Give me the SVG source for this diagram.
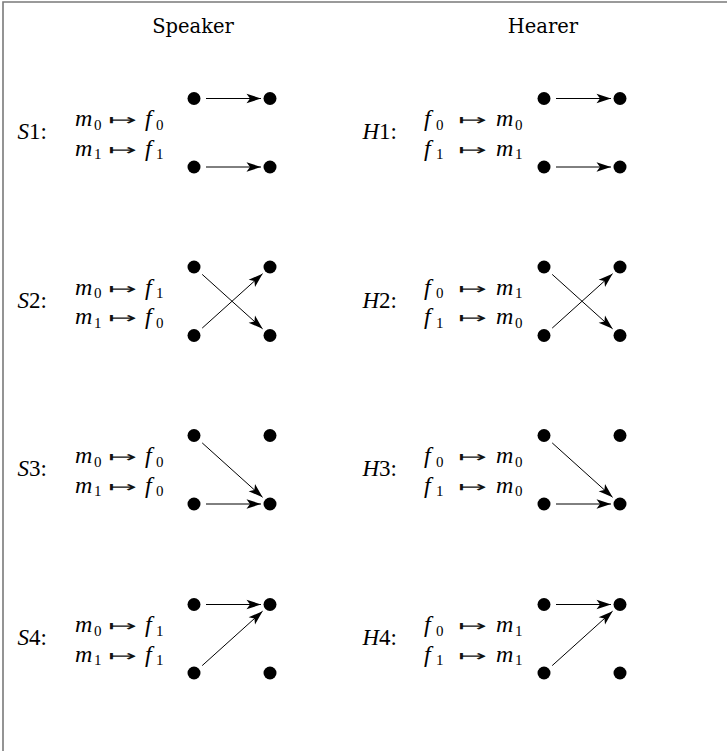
<svg xmlns="http://www.w3.org/2000/svg" width="727" height="751" viewBox="0 0 727 751">
<style>
.frame{stroke:#7a7a7a;stroke-width:1.6;fill:none}
.hdr{font-family:"DejaVu Serif","Liberation Serif",serif;font-size:19.5px;text-anchor:middle;fill:#000}
.mi{font-family:"Liberation Serif",serif;font-style:italic;font-size:24px;fill:#000}
.sub{font-family:"Liberation Serif",serif;font-style:normal;font-size:15px}
.arr{font-family:"DejaVu Sans",sans-serif;font-size:15px;fill:#111}
.lbl{font-family:"Liberation Serif",serif;font-size:23px;text-anchor:end;fill:#000}
.lbl .v{font-style:italic}
.dot{fill:#000}
.edge{stroke:#000;stroke-width:1;fill:none;marker-end:url(#ah)}
</style>
<defs>
<marker id="ah" markerUnits="userSpaceOnUse" markerWidth="16" markerHeight="10" refX="14.5" refY="4.75" orient="auto" overflow="visible">
<path d="M0,0 L14.5,4.75 L0,9.5 L3.5,4.75 z" fill="#000"/>
</marker>
</defs>
<rect width="727" height="751" fill="#fff"/>
<path class="frame" d="M3,751 V2 H727"/>
<g id="header-speaker"><text class="hdr" x="193" y="33">Speaker</text></g>
<g id="header-hearer"><text class="hdr" x="543" y="33">Hearer</text></g>

<!-- Row 1 -->
<g id="S1">
<text class="lbl" x="47" y="139"><tspan class="v">S</tspan>1:</text>
<text class="mi" y="126"><tspan x="75">m</tspan><tspan class="sub" x="94" y="129.5">0</tspan><tspan x="145" y="126">f</tspan><tspan class="sub" x="156" y="129.5">0</tspan></text>
<text class="arr" x="108" y="125" textLength="29" lengthAdjust="spacingAndGlyphs">↦</text>
<text class="mi" y="155.5"><tspan x="75">m</tspan><tspan class="sub" x="94" y="159">1</tspan><tspan x="145" y="155.5">f</tspan><tspan class="sub" x="156" y="159">1</tspan></text>
<text class="arr" x="108" y="154.5" textLength="29" lengthAdjust="spacingAndGlyphs">↦</text>
<circle class="dot" cx="194" cy="98.5" r="6.5"/><circle class="dot" cx="270" cy="98.5" r="6.5"/>
<circle class="dot" cx="194" cy="167" r="6.5"/><circle class="dot" cx="270" cy="167" r="6.5"/>
</g>
<g id="H1">
<text class="lbl" x="397" y="139"><tspan class="v">H</tspan>1:</text>
<text class="mi" y="126"><tspan x="424">f</tspan><tspan class="sub" x="436" y="129.5">0</tspan><tspan x="496" y="126">m</tspan><tspan class="sub" x="515" y="129.5">0</tspan></text>
<text class="arr" x="458" y="125" textLength="29" lengthAdjust="spacingAndGlyphs">↦</text>
<text class="mi" y="155.5"><tspan x="424">f</tspan><tspan class="sub" x="436" y="159">1</tspan><tspan x="496" y="155.5">m</tspan><tspan class="sub" x="515" y="159">1</tspan></text>
<text class="arr" x="458" y="154.5" textLength="29" lengthAdjust="spacingAndGlyphs">↦</text>
<circle class="dot" cx="544" cy="98.5" r="6.5"/><circle class="dot" cx="620" cy="98.5" r="6.5"/>
<circle class="dot" cx="544" cy="167" r="6.5"/><circle class="dot" cx="620" cy="167" r="6.5"/>
</g>

<!-- Row 2 -->
<g id="S2">
<text class="lbl" x="47" y="307.5"><tspan class="v">S</tspan>2:</text>
<text class="mi" y="294.5"><tspan x="75">m</tspan><tspan class="sub" x="94" y="298">0</tspan><tspan x="145" y="294.5">f</tspan><tspan class="sub" x="156" y="298">1</tspan></text>
<text class="arr" x="108" y="293.5" textLength="29" lengthAdjust="spacingAndGlyphs">↦</text>
<text class="mi" y="324"><tspan x="75">m</tspan><tspan class="sub" x="94" y="327.5">1</tspan><tspan x="145" y="324">f</tspan><tspan class="sub" x="156" y="327.5">0</tspan></text>
<text class="arr" x="108" y="323" textLength="29" lengthAdjust="spacingAndGlyphs">↦</text>
<circle class="dot" cx="194" cy="267" r="6.5"/><circle class="dot" cx="270" cy="267" r="6.5"/>
<circle class="dot" cx="194" cy="335.5" r="6.5"/><circle class="dot" cx="270" cy="335.5" r="6.5"/>
</g>
<g id="H2">
<text class="lbl" x="397" y="307.5"><tspan class="v">H</tspan>2:</text>
<text class="mi" y="294.5"><tspan x="424">f</tspan><tspan class="sub" x="436" y="298">0</tspan><tspan x="496" y="294.5">m</tspan><tspan class="sub" x="515" y="298">1</tspan></text>
<text class="arr" x="458" y="293.5" textLength="29" lengthAdjust="spacingAndGlyphs">↦</text>
<text class="mi" y="324"><tspan x="424">f</tspan><tspan class="sub" x="436" y="327.5">1</tspan><tspan x="496" y="324">m</tspan><tspan class="sub" x="515" y="327.5">0</tspan></text>
<text class="arr" x="458" y="323" textLength="29" lengthAdjust="spacingAndGlyphs">↦</text>
<circle class="dot" cx="544" cy="267" r="6.5"/><circle class="dot" cx="620" cy="267" r="6.5"/>
<circle class="dot" cx="544" cy="335.5" r="6.5"/><circle class="dot" cx="620" cy="335.5" r="6.5"/>
</g>

<!-- Row 3 -->
<g id="S3">
<text class="lbl" x="47" y="476"><tspan class="v">S</tspan>3:</text>
<text class="mi" y="463"><tspan x="75">m</tspan><tspan class="sub" x="94" y="466.5">0</tspan><tspan x="145" y="463">f</tspan><tspan class="sub" x="156" y="466.5">0</tspan></text>
<text class="arr" x="108" y="462" textLength="29" lengthAdjust="spacingAndGlyphs">↦</text>
<text class="mi" y="492.5"><tspan x="75">m</tspan><tspan class="sub" x="94" y="496">1</tspan><tspan x="145" y="492.5">f</tspan><tspan class="sub" x="156" y="496">0</tspan></text>
<text class="arr" x="108" y="491.5" textLength="29" lengthAdjust="spacingAndGlyphs">↦</text>
<circle class="dot" cx="194" cy="435.5" r="6.5"/><circle class="dot" cx="270" cy="435.5" r="6.5"/>
<circle class="dot" cx="194" cy="504" r="6.5"/><circle class="dot" cx="270" cy="504" r="6.5"/>
</g>
<g id="H3">
<text class="lbl" x="397" y="476"><tspan class="v">H</tspan>3:</text>
<text class="mi" y="463"><tspan x="424">f</tspan><tspan class="sub" x="436" y="466.5">0</tspan><tspan x="496" y="463">m</tspan><tspan class="sub" x="515" y="466.5">0</tspan></text>
<text class="arr" x="458" y="462" textLength="29" lengthAdjust="spacingAndGlyphs">↦</text>
<text class="mi" y="492.5"><tspan x="424">f</tspan><tspan class="sub" x="436" y="496">1</tspan><tspan x="496" y="492.5">m</tspan><tspan class="sub" x="515" y="496">0</tspan></text>
<text class="arr" x="458" y="491.5" textLength="29" lengthAdjust="spacingAndGlyphs">↦</text>
<circle class="dot" cx="544" cy="435.5" r="6.5"/><circle class="dot" cx="620" cy="435.5" r="6.5"/>
<circle class="dot" cx="544" cy="504" r="6.5"/><circle class="dot" cx="620" cy="504" r="6.5"/>
</g>

<!-- Row 4 -->
<g id="S4">
<text class="lbl" x="47" y="645"><tspan class="v">S</tspan>4:</text>
<text class="mi" y="632"><tspan x="75">m</tspan><tspan class="sub" x="94" y="635.5">0</tspan><tspan x="145" y="632">f</tspan><tspan class="sub" x="156" y="635.5">1</tspan></text>
<text class="arr" x="108" y="631" textLength="29" lengthAdjust="spacingAndGlyphs">↦</text>
<text class="mi" y="661.5"><tspan x="75">m</tspan><tspan class="sub" x="94" y="665">1</tspan><tspan x="145" y="661.5">f</tspan><tspan class="sub" x="156" y="665">1</tspan></text>
<text class="arr" x="108" y="660.5" textLength="29" lengthAdjust="spacingAndGlyphs">↦</text>
<circle class="dot" cx="194" cy="604.5" r="6.5"/><circle class="dot" cx="270" cy="604.5" r="6.5"/>
<circle class="dot" cx="194" cy="673" r="6.5"/><circle class="dot" cx="270" cy="673" r="6.5"/>
</g>
<g id="H4">
<text class="lbl" x="397" y="645"><tspan class="v">H</tspan>4:</text>
<text class="mi" y="632"><tspan x="424">f</tspan><tspan class="sub" x="436" y="635.5">0</tspan><tspan x="496" y="632">m</tspan><tspan class="sub" x="515" y="635.5">1</tspan></text>
<text class="arr" x="458" y="631" textLength="29" lengthAdjust="spacingAndGlyphs">↦</text>
<text class="mi" y="661.5"><tspan x="424">f</tspan><tspan class="sub" x="436" y="665">1</tspan><tspan x="496" y="661.5">m</tspan><tspan class="sub" x="515" y="665">1</tspan></text>
<text class="arr" x="458" y="660.5" textLength="29" lengthAdjust="spacingAndGlyphs">↦</text>
<circle class="dot" cx="544" cy="604.5" r="6.5"/><circle class="dot" cx="620" cy="604.5" r="6.5"/>
<circle class="dot" cx="544" cy="673" r="6.5"/><circle class="dot" cx="620" cy="673" r="6.5"/>
</g>

<g id="connectors">
<!-- Speaker -->
<line class="edge" x1="206" y1="98.5" x2="261" y2="98.5"/>
<line class="edge" x1="206" y1="167" x2="261" y2="167"/>
<line class="edge" x1="202.2" y1="274.4" x2="262.6" y2="328.8"/>
<line class="edge" x1="202.2" y1="328.1" x2="262.6" y2="273.7"/>
<line class="edge" x1="202.2" y1="442.9" x2="262.6" y2="497.3"/>
<line class="edge" x1="206" y1="504" x2="261" y2="504"/>
<line class="edge" x1="206" y1="604.5" x2="261" y2="604.5"/>
<line class="edge" x1="202.2" y1="665.6" x2="262.6" y2="611.2"/>
<!-- Hearer -->
<line class="edge" x1="556" y1="98.5" x2="611" y2="98.5"/>
<line class="edge" x1="556" y1="167" x2="611" y2="167"/>
<line class="edge" x1="552.2" y1="274.4" x2="612.6" y2="328.8"/>
<line class="edge" x1="552.2" y1="328.1" x2="612.6" y2="273.7"/>
<line class="edge" x1="552.2" y1="442.9" x2="612.6" y2="497.3"/>
<line class="edge" x1="556" y1="504" x2="611" y2="504"/>
<line class="edge" x1="556" y1="604.5" x2="611" y2="604.5"/>
<line class="edge" x1="552.2" y1="665.6" x2="612.6" y2="611.2"/>
</g>
</svg>
